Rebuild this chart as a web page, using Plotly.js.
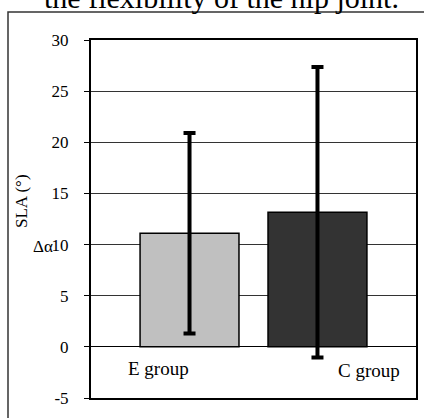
<!DOCTYPE html>
<html>
<head>
<meta charset="utf-8">
<script src="https://cdn.plot.ly/plotly-3.0.1.min.js"></script>
<style>html,body{margin:0;padding:0;background:#fff;}#chart{width:424px;height:418px;}</style>
</head>
<body>
<div id="chart"></div>
<script>
var categories = ["E group", "C group"];
var means = [11.1, 13.15];
var errors = [9.8, 14.2];
var barColors = ["#c0c0c0", "#333333"];
var yTicks = [-5, 0, 5, 10, 15, 20, 25, 30];
var titleText = "the flexibility of the hip joint.";
var yTitle = "SLA (°)";
var yPrefix = "Δα";
var labelY = [-2.15, -2.35];

var serif = "Liberation Serif, Times New Roman, serif";

var trace = {
  type: "bar",
  x: categories,
  y: means,
  width: 0.773,
  marker: {color: barColors, line: {color: "#000", width: 1.5}},
  error_y: {type: "data", array: errors, visible: true, color: "#000", thickness: 4, width: 6},
  hoverinfo: "none"
};

var annotations = [
  {text: titleText, xref: "paper", yref: "paper", x: (221 - 91) / 325, y: (398 + 3) / 358, xanchor: "center", yanchor: "middle",
   showarrow: false, font: {family: serif, size: 30, color: "#000"}},
  {text: yTitle, xref: "paper", yref: "paper", x: (21 - 91) / 325, y: (398 - 201) / 358, xanchor: "center", yanchor: "middle",
   textangle: -90, showarrow: false, font: {family: serif, size: 17, color: "#000"}},
  {text: yPrefix, xref: "paper", yref: "paper", x: (42.5 - 91) / 325, y: (398 - 246) / 358, xanchor: "center", yanchor: "middle",
   showarrow: false, font: {family: serif, size: 17, color: "#000"}}
];
var shifts = [-31.5, 51.5];
for (var i = 0; i < categories.length; i++) {
  annotations.push({text: categories[i], x: categories[i], y: labelY[i], xref: "x", yref: "y",
    xshift: shifts[i], showarrow: false, font: {family: serif, size: 19, color: "#000"}});
}

var layout = {
  width: 424, height: 418,
  margin: {l: 91, r: 8, t: 40, b: 20, pad: 0},
  paper_bgcolor: "#fff", plot_bgcolor: "#fff",
  showlegend: false,
  xaxis: {showticklabels: false, ticks: "", showgrid: false, zeroline: false, showline: true, mirror: true,
          linecolor: "#000", linewidth: 2, range: [-0.77, 1.77], fixedrange: true},
  yaxis: {range: [-5, 30], tickvals: yTicks, ticktext: yTicks.map(String), ticks: "outside", ticklen: 5,
          tickcolor: "#000", tickwidth: 1, ticklabelstandoff: 12,
          showgrid: true, gridcolor: "#333", gridwidth: 1, zeroline: true, zerolinecolor: "#000", zerolinewidth: 1,
          showline: true, mirror: true, linecolor: "#000", linewidth: 2,
          tickfont: {family: serif, size: 17, color: "#000"}, fixedrange: true},
  shapes: [
    {type: "rect", xref: "paper", yref: "paper", x0: (8 - 91) / 325, x1: 1.2, y0: -0.2, y1: (398 - 12) / 358,
     line: {color: "#333", width: 1.5}, fillcolor: "rgba(0,0,0,0)", layer: "below"}
  ],
  annotations: annotations
};

Plotly.newPlot("chart", [trace], layout, {displayModeBar: false, staticPlot: true});
</script>
</body>
</html>
